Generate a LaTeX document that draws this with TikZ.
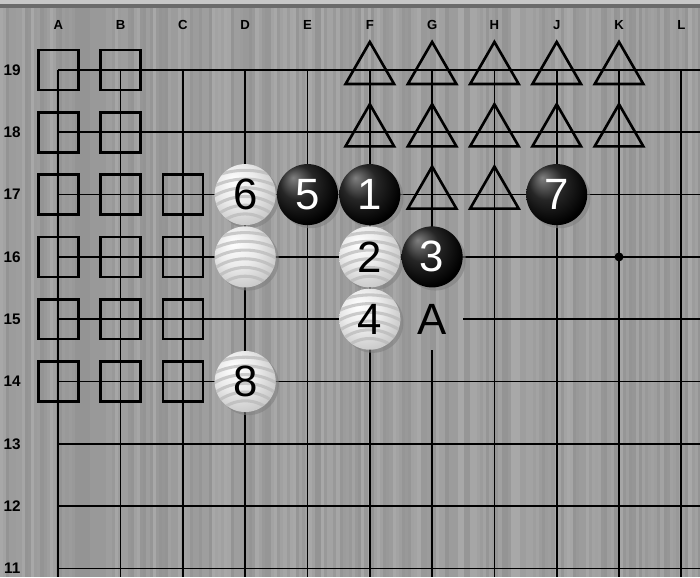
\documentclass[tikz,border=0pt]{standalone}
\usepackage{fontspec}
\setmainfont{Liberation Sans}
\usetikzlibrary{shapes.geometric,shadows}

\pgfdeclareradialshading{blackstone}{\pgfpoint{-12bp}{14bp}}{color(0bp)=(black!50); color(14bp)=(black!85); color(30bp)=(black); color(46bp)=(black!95); color(50bp)=(black!75)}
\pgfdeclareradialshading{whitestone}{\pgfpoint{-10bp}{12bp}}{color(0bp)=(white); color(16bp)=(white!92!black); color(34bp)=(white!76!black); color(50bp)=(white!52!black)}

\begin{document}
\begin{tikzpicture}[x=1cm,y=1cm,
  gridline/.style={black,line width=0.8pt},
  sqmark/.style={draw=black,rectangle,line width=1.2pt,minimum size=0.64cm,inner sep=0pt},
  trmark/.style={draw=black,regular polygon,regular polygon sides=3,line width=1.2pt,minimum size=0.9cm,inner sep=0pt},
  stone/.style={circle,minimum size=0.98cm,inner sep=0pt,font=\fontsize{20}{20}\selectfont,
    drop shadow={shadow xshift=0.05cm,shadow yshift=-0.05cm,opacity=0.6}},
  bstone/.style={stone,shading=blackstone,text=white},
  wstone/.style={stone,shading=whitestone,text=black,
    path picture={\foreach \q in {1,...,7}{\draw[white!72!black,line width=1.4pt,opacity=0.7]
      ([yshift=-0.9cm]path picture bounding box.center) circle ({0.45+0.14*\q});}}},
  collbl/.style={font=\bfseries\fontsize{6}{6}\selectfont,text=black},
  rowlbl/.style={font=\bfseries\fontsize{7}{7}\selectfont,text=black}
]
\useasboundingbox (0.064,10.862) rectangle (11.300,20.124);

% Board texture
\pgfmathsetseed{3}
\foreach \k in {0,...,225}{
  \pgfmathtruncatemacro\g{34+int(9*rnd)}
  \fill[black!\g] ({0.064+0.05*\k},10.862) rectangle ++(0.05,9.262);
}
\fill[black!22] (0.064,20.06) rectangle (11.3,20.124);
\fill[black!58] (0.064,19.996) rectangle (11.3,20.06);

% Coordinates
\foreach \c/\x in {A/1,B/2,C/3,D/4,E/5,F/6,G/7,H/8,J/9,K/10,L/11}
  \node[collbl] (col\c) at (\x,19.72) {\c};
\foreach \r in {11,...,19}
  \node[rowlbl] (row\r) at (0.26,\r) {\r};

% Grid
\foreach \r in {11,12,13,14,16,17,18,19}
  \draw[gridline] (1,\r) -- (11.3,\r);
\draw[gridline] (1,15) -- (6,15);
\draw[gridline] (7.5,15) -- (11.3,15);
\foreach \x in {1,2,3,4,5,6,8,9,10,11}
  \draw[gridline] (\x,19) -- (\x,10.862);
\draw[gridline] (7,19) -- (7,16);
\draw[gridline] (7,14.5) -- (7,10.862);
\fill[black] (10,16) circle (0.072);

% Square marks
\foreach \r in {14,...,19}{
  \node[sqmark] (sqA\r) at (1,\r) {};
  \node[sqmark] (sqB\r) at (2,\r) {};
}
\foreach \r in {14,...,17}
  \node[sqmark] (sqC\r) at (3,\r) {};

% Triangle marks
\foreach \c/\x in {F/6,G/7,H/8,J/9,K/10}{
  \node[trmark] (tr\c19) at (\x,19) {};
  \node[trmark] (tr\c18) at (\x,18) {};
}
\node[trmark] (trG17) at (7,17) {};
\node[trmark] (trH17) at (8,17) {};

% Stones
\node[wstone] (m6) at (4,17) {6};
\node[bstone] (m5) at (5,17) {5};
\node[bstone] (m1) at (6,17) {1};
\node[bstone] (m7) at (9,17) {7};
\node[wstone] (wD16) at (4,16) {};
\node[wstone] (m2) at (6,16) {2};
\node[bstone] (m3) at (7,16) {3};
\node[wstone] (m4) at (6,15) {4};
\node[wstone] (m8) at (4,14) {8};

% Label
\node[font=\fontsize{20}{20}\selectfont] (lblA) at (7,15) {A};

\end{tikzpicture}
\end{document}
